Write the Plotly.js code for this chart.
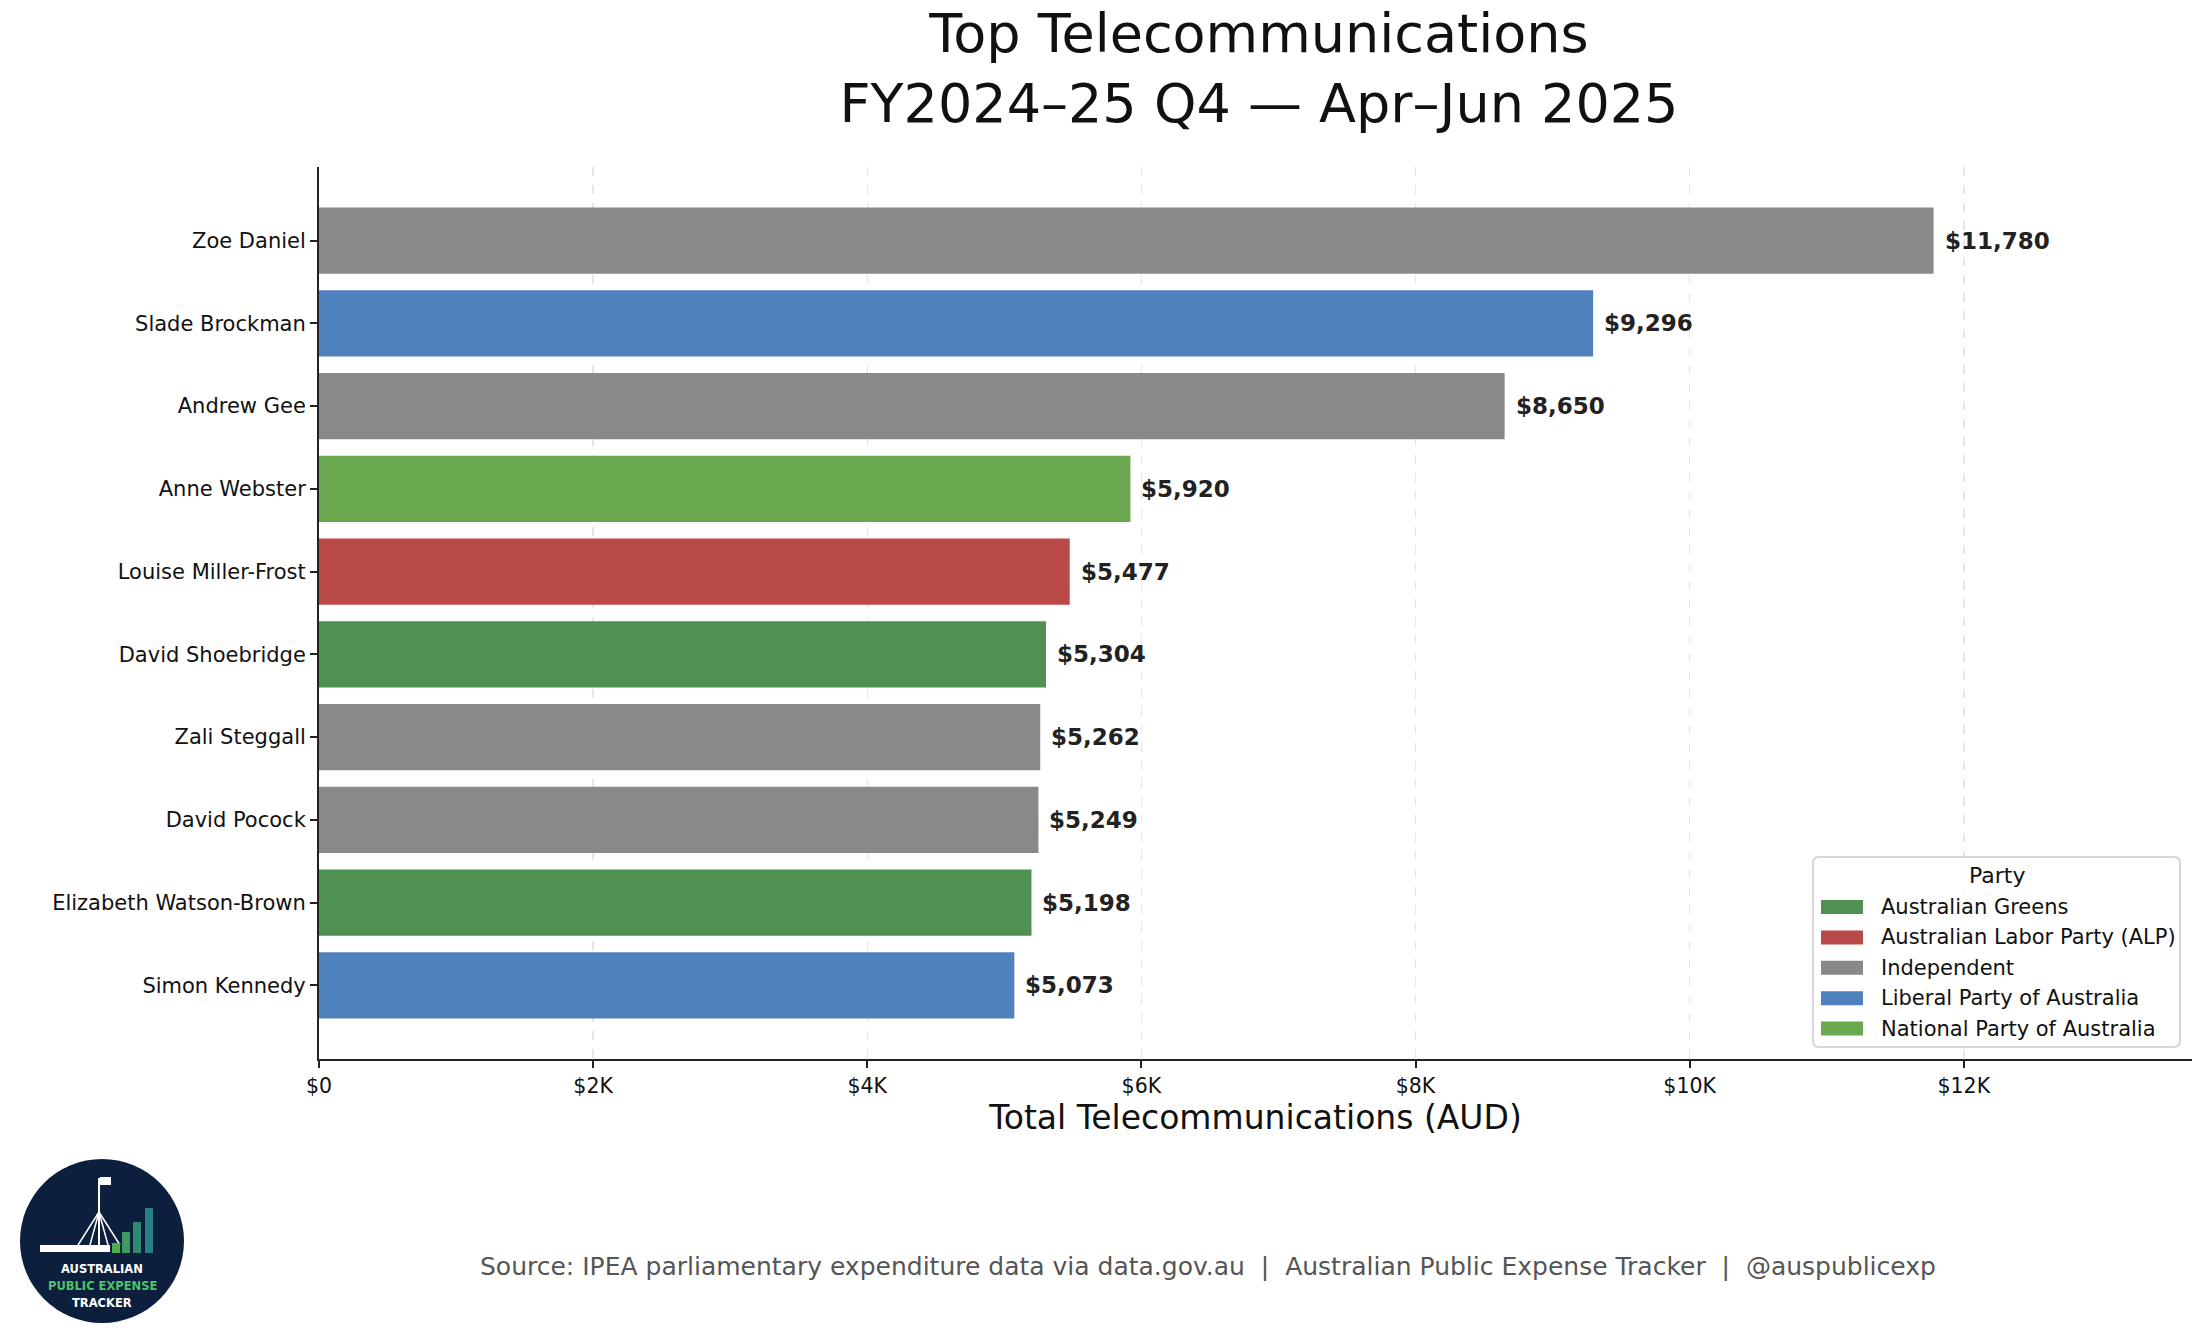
<!DOCTYPE html>
<html>
<head>
<meta charset="utf-8">
<script src="https://cdn.plot.ly/plotly-3.0.1.min.js"></script>
<style>
  html, body { margin: 0; padding: 0; background: #fff; }
  #chart { width: 2205px; height: 1337px; }
</style>
</head>
<body>
<div id="chart"></div>
<script>
// members, top to bottom
var members = ['Zoe Daniel', 'Slade Brockman', 'Andrew Gee', 'Anne Webster', 'Louise Miller-Frost',
  'David Shoebridge', 'Zali Steggall', 'David Pocock', 'Elizabeth Watson-Brown', 'Simon Kennedy'];
var totals = [11780, 9296, 8650, 5920, 5477, 5304, 5262, 5249, 5198, 5073];
var memberParty = ['Independent', 'Liberal Party of Australia', 'Independent', 'National Party of Australia',
  'Australian Labor Party (ALP)', 'Australian Greens', 'Independent', 'Independent',
  'Australian Greens', 'Liberal Party of Australia'];

var parties = ['Australian Greens', 'Australian Labor Party (ALP)', 'Independent',
  'Liberal Party of Australia', 'National Party of Australia'];
var partyColors = ['#4e9151', '#b94a48', '#898989', '#4f81bd', '#6aa84f'];

var tickVals = [0, 2000, 4000, 6000, 8000, 10000, 12000];
var tickText = ['$0', '$2K', '$4K', '$6K', '$8K', '$10K', '$12K'];

var FONT = 'DejaVu Sans, Verdana, sans-serif';

// plot area in pixels
var L = 319, R = 2192, T = 167, B = 1059;
function px(x) { return (x - L) / (R - L); }
function py(y) { return (B - y) / (B - T); }

var traces = parties.map(function(p, i) {
  var ys = [], xs = [];
  members.forEach(function(m, j) {
    if (memberParty[j] === p) { ys.push(m); xs.push(totals[j]); }
  });
  return {
    type: 'bar', orientation: 'h', name: p,
    x: xs, y: ys,
    marker: { color: partyColors[i], line: { width: 0 } },
    hoverinfo: 'skip', showlegend: false
  };
});

function money(v) { return '$' + v.toLocaleString('en-US'); }

var annotations = members.map(function(m, j) {
  return {
    x: totals[j], y: m, xref: 'x', yref: 'y',
    text: '<b>' + money(totals[j]) + '</b>',
    showarrow: false, xanchor: 'left', yanchor: 'middle', xshift: 9,
    font: { family: FONT, size: 23, color: '#222' }
  };
});

annotations.push({
  x: px(1208), y: py(1266), xref: 'paper', yref: 'paper',
  text: 'Source: IPEA parliamentary expenditure data via data.gov.au  |  Australian Public Expense Tracker  |  @auspublicexp',
  showarrow: false, xanchor: 'center', yanchor: 'middle',
  font: { family: FONT, size: 25, color: '#555' }
});

var shapes = [];

// legend drawn by hand (matplotlib style patches)
var LG = { x0: 1813, x1: 2180, y0: 857, y1: 1047, r: 6 };
function lx(x) { return px(x).toFixed(5); }
function ly(y) { return py(y).toFixed(5); }
shapes.push({
  type: 'path', xref: 'paper', yref: 'paper', layer: 'above',
  path: 'M ' + lx(LG.x0 + LG.r) + ' ' + ly(LG.y0) +
    ' L ' + lx(LG.x1 - LG.r) + ' ' + ly(LG.y0) +
    ' Q ' + lx(LG.x1) + ' ' + ly(LG.y0) + ' ' + lx(LG.x1) + ' ' + ly(LG.y0 + LG.r) +
    ' L ' + lx(LG.x1) + ' ' + ly(LG.y1 - LG.r) +
    ' Q ' + lx(LG.x1) + ' ' + ly(LG.y1) + ' ' + lx(LG.x1 - LG.r) + ' ' + ly(LG.y1) +
    ' L ' + lx(LG.x0 + LG.r) + ' ' + ly(LG.y1) +
    ' Q ' + lx(LG.x0) + ' ' + ly(LG.y1) + ' ' + lx(LG.x0) + ' ' + ly(LG.y1 - LG.r) +
    ' L ' + lx(LG.x0) + ' ' + ly(LG.y0 + LG.r) +
    ' Q ' + lx(LG.x0) + ' ' + ly(LG.y0) + ' ' + lx(LG.x0 + LG.r) + ' ' + ly(LG.y0) + ' Z',
  fillcolor: 'rgba(255,255,255,0.85)', line: { color: '#d6d6d6', width: 2 }
});
annotations.push({
  x: px(1997), y: py(875), xref: 'paper', yref: 'paper', text: 'Party',
  showarrow: false, xanchor: 'center', yanchor: 'middle',
  font: { family: FONT, size: 22, color: '#111' }
});
parties.forEach(function(p, i) {
  var yc = 907 + i * 30.4;
  shapes.push({ type: 'rect', xref: 'paper', yref: 'paper', layer: 'above',
    x0: px(1821), x1: px(1863), y0: py(yc - 7), y1: py(yc + 7),
    fillcolor: partyColors[i], line: { width: 0 } });
  annotations.push({
    x: px(1879), y: py(yc), xref: 'paper', yref: 'paper', text: p,
    showarrow: false, xanchor: 'left', yanchor: 'middle',
    font: { family: FONT, size: 21, color: '#111' }
  });
});

// logo
shapes.push(
  { type: 'circle', xref: 'paper', yref: 'paper', x0: px(20), x1: px(184), y0: py(1159), y1: py(1323),
    fillcolor: '#0c1f3d', line: { width: 0 }, layer: 'above' },
  { type: 'rect', xref: 'paper', yref: 'paper', x0: px(40), x1: px(110), y0: py(1252), y1: py(1245),
    fillcolor: '#ffffff', line: { width: 0 }, layer: 'above' },
  { type: 'line', xref: 'paper', yref: 'paper', x0: px(99), x1: px(99), y0: py(1178), y1: py(1245),
    line: { color: '#ffffff', width: 2 }, layer: 'above' },
  { type: 'rect', xref: 'paper', yref: 'paper', x0: px(100), x1: px(111), y0: py(1177), y1: py(1185),
    fillcolor: '#ffffff', line: { width: 0 }, layer: 'above' }
);
[78, 90, 108, 120].forEach(function(fx) {
  shapes.push({ type: 'line', xref: 'paper', yref: 'paper', x0: px(99), x1: px(fx), y0: py(1212), y1: py(1245),
    line: { color: '#ffffff', width: 1.5 }, layer: 'above' });
});
[[112, 1243, '#4caf50'], [122, 1232, '#3d9a60'], [133, 1222, '#2f8a72'], [145, 1208, '#267f80']].forEach(function(b) {
  shapes.push({ type: 'rect', xref: 'paper', yref: 'paper', x0: px(b[0]), x1: px(b[0] + 8), y0: py(1253), y1: py(b[1]),
    fillcolor: b[2], line: { width: 0 }, layer: 'above' });
});
[['AUSTRALIAN', '#ffffff', 1269], ['PUBLIC EXPENSE', '#4cc46a', 1286], ['TRACKER', '#ffffff', 1303]].forEach(function(l) {
  annotations.push({
    x: px(102), y: py(l[2]), xref: 'paper', yref: 'paper', text: '<b>' + l[0] + '</b>',
    showarrow: false, xanchor: 'center', yanchor: 'middle',
    font: { family: FONT, size: 11.5, color: l[1] }
  });
});

var layout = {
  width: 2205, height: 1337,
  margin: { l: L, r: 2205 - R, t: T, b: 1337 - B, pad: 0 },
  paper_bgcolor: '#ffffff', plot_bgcolor: '#ffffff',
  font: { family: FONT, color: '#111' },
  title: {
    text: 'Top Telecommunications<br>FY2024–25 Q4 — Apr–Jun 2025',
    font: { family: FONT, size: 54, color: '#111' },
    x: px(1259), xref: 'paper', xanchor: 'center',
    y: 1 - 52 / 1337, yref: 'container', yanchor: 'top'
  },
  barmode: 'overlay', bargap: 0.2,
  xaxis: {
    range: [0, 13665], tickvals: tickVals, ticktext: tickText,
    showgrid: true, gridcolor: '#e6e6e6', griddash: 'dash', gridwidth: 1.5,
    zeroline: false, showline: true, linecolor: '#222', linewidth: 2,
    ticks: 'outside', ticklen: 7, tickwidth: 2, tickcolor: '#222',
    tickfont: { family: FONT, size: 20.5, color: '#111' },
    title: { text: 'Total Telecommunications (AUD)', font: { family: FONT, size: 33, color: '#111' }, standoff: 8 },
    automargin: false, fixedrange: true
  },
  yaxis: {
    type: 'category', categoryorder: 'array', categoryarray: members,
    range: [9.89, -0.89],
    showgrid: false, zeroline: false, showline: true, linecolor: '#222', linewidth: 2,
    ticks: 'outside', ticklen: 7, tickwidth: 2, tickcolor: '#222',
    tickfont: { family: FONT, size: 21, color: '#111' },
    automargin: false, fixedrange: true
  },
  showlegend: false,
  annotations: annotations,
  shapes: shapes
};

Plotly.newPlot('chart', traces, layout, { staticPlot: true });
</script>
</body>
</html>
